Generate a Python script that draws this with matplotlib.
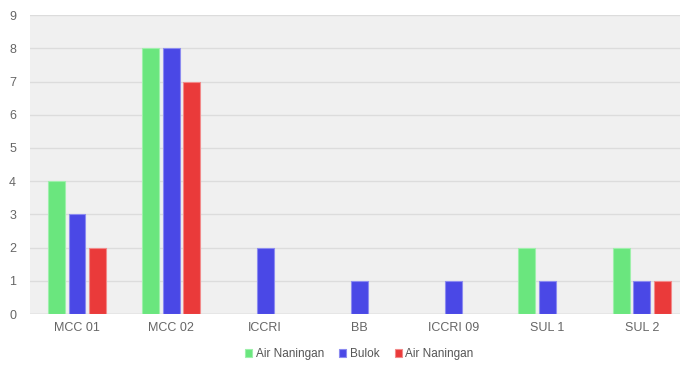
import numpy as np
import matplotlib.pyplot as plt

plt.rcParams['font.family'] = ['Liberation Sans', 'DejaVu Sans']

categories = ['MCC 01', 'MCC 02', 'ICCRI', 'BB', 'ICCRI 09', 'SUL 1', 'SUL 2']
air_naningan = [4, 8, 0, 0, 0, 2, 2]
bulok = [3, 8, 2, 1, 1, 1, 1]
air_naningan_2 = [2, 7, 0, 0, 0, 0, 1]

series = [
    ('Air Naningan', air_naningan, '#6ae67e', '#9ef0ab'),
    ('Bulok', bulok, '#4a48e6', '#8c8bf0'),
    ('Air Naningan', air_naningan_2, '#ea3a3a', '#f28a8a'),
]

fig = plt.figure(figsize=(6.8, 3.67), dpi=100)
ax = fig.add_axes([0.044, 0.144, 0.969, 0.815])
ax.set_facecolor('#f0f0f0')

x = np.arange(len(categories))
width = 0.18
step = 0.22
for i, (name, vals, color, edge) in enumerate(series):
    vals = np.array(vals, dtype=float)
    # skip empty bars so no outline is drawn on the baseline
    keep = vals > 0
    ax.bar(x[keep] + (i - 1) * step, vals[keep], width, color=color,
           edgecolor=edge, linewidth=0.8, label=name, zorder=3)

ax.set_xlim(-0.5, len(categories) - 0.5)
ax.set_ylim(0, 9)
ax.set_yticks(range(10))
ax.set_xticks(x)
ax.set_xticklabels(categories)
ax.grid(axis='y', color='#dcdcdc', linewidth=1, zorder=0)
ax.tick_params(length=0, colors='#666666', labelsize=9)
ax.tick_params(axis='y', pad=10)
ax.tick_params(axis='x', pad=6)
for s in ax.spines.values():
    s.set_visible(False)
ax.axhline(0, color='#cfcfcf', linewidth=1, zorder=2)

handles, labels = ax.get_legend_handles_labels()
leg = ax.legend(handles, labels, loc='center', bbox_to_anchor=(0.5, -40 / 299),
                ncol=3, frameon=False, fontsize=8.5, handlelength=0.6,
                handleheight=0.6, handletextpad=0.3, columnspacing=1.3)
for t in leg.get_texts():
    t.set_color('#555555')

fig.savefig('out.png', dpi=100)
